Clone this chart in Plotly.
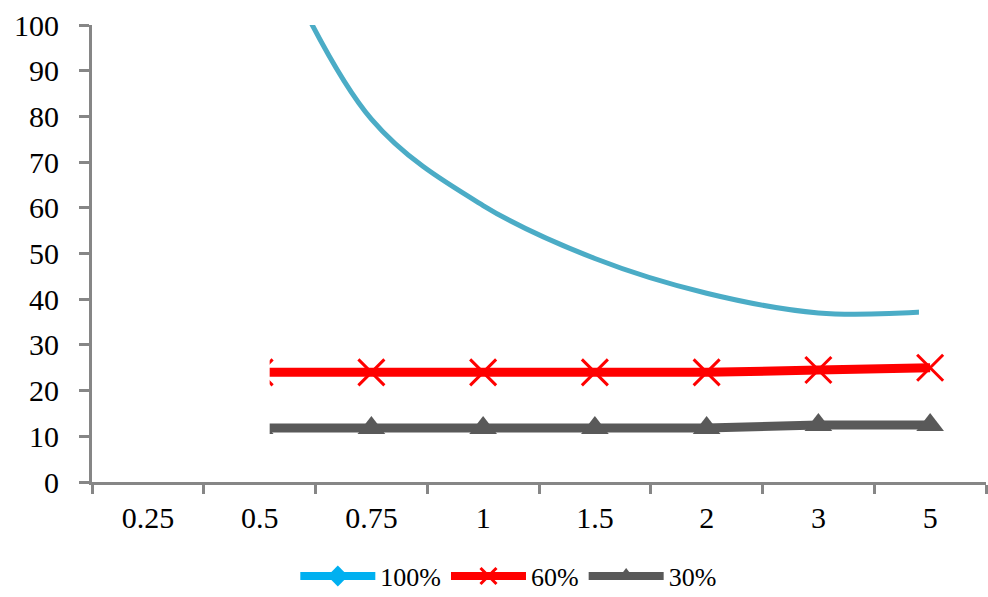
import plotly.graph_objects as go

categories = ["0.25", "0.5", "0.75", "1", "1.5", "2", "3", "5"]
series_100_x = ["0.5", "0.75", "1", "1.5", "2", "3", "5"]
series_100 = [124, 79.4, 60.5, 48.9, 41.3, 37.0, 37.3]
series_60_x = ["0.5", "0.75", "1", "1.5", "2", "3", "5"]
series_60 = [24, 24, 24, 24, 24, 24.5, 25]
series_30_x = ["0.5", "0.75", "1", "1.5", "2", "3", "5"]
series_30 = [11.8, 11.8, 11.8, 11.8, 11.8, 12.5, 12.5]
y_ticks = list(range(0, 101, 10))

FONT = "Liberation Serif"
AXIS = "#868686"

fig = go.Figure()

# data traces
fig.add_trace(go.Scatter(x=series_100_x, y=series_100, mode="lines",
                         line=dict(color="#4BACC6", width=5, shape="spline", smoothing=1),
                         showlegend=False))
fig.add_trace(go.Scatter(x=series_60_x, y=series_60, mode="lines+markers",
                         line=dict(color="#FF0000", width=9),
                         marker=dict(symbol="x-thin", size=26, line=dict(color="#FF0000", width=3)),
                         showlegend=False, cliponaxis=True))
fig.add_trace(go.Scatter(x=series_30_x, y=series_30, mode="lines+markers",
                         line=dict(color="#595959", width=9),
                         marker=dict(symbol="triangle-up", size=24, color="#595959"),
                         showlegend=False, cliponaxis=True))

# legend entries
fig.add_trace(go.Scatter(x=[None], y=[None], mode="lines+markers", name="100%",
                         line=dict(color="#00B0F0", width=8),
                         marker=dict(symbol="diamond", size=18, color="#00B0F0")))
fig.add_trace(go.Scatter(x=[None], y=[None], mode="lines+markers", name="60%",
                         line=dict(color="#FF0000", width=8),
                         marker=dict(symbol="x-thin", size=18, line=dict(color="#FF0000", width=3))))
fig.add_trace(go.Scatter(x=[None], y=[None], mode="lines+markers", name="30%",
                         line=dict(color="#595959", width=8),
                         marker=dict(symbol="triangle-up", size=18, color="#595959")))

# white masks reproducing the cut-off ends of the series
fig.add_shape(type="rect", xref="x", yref="y", x0=-0.45, x1=1.09, y0=0.6, y1=100,
              fillcolor="white", line=dict(width=0), layer="above")
fig.add_shape(type="rect", xref="x", yref="y", x0=6.9, x1=7.3, y0=33, y1=45,
              fillcolor="white", line=dict(width=0), layer="above")

fig.update_layout(
    width=988, height=597,
    margin=dict(l=92, r=2, t=25, b=115),
    paper_bgcolor="white", plot_bgcolor="white",
    font=dict(family=FONT, size=30, color="black"),
    legend=dict(orientation="h", xref="container", yref="container",
                x=0.515, xanchor="center", y=0.035, yanchor="middle",
                font=dict(family=FONT, size=26, color="black"), itemwidth=75,
                tracegroupgap=0, bgcolor="rgba(0,0,0,0)"),
    xaxis=dict(type="category", categoryorder="array", categoryarray=categories,
               range=[-0.5, 7.5], tickson="boundaries", ticks="outside", ticklen=9,
               tickwidth=3, tickcolor=AXIS, showline=True, linecolor=AXIS, linewidth=3,
               showgrid=False, zeroline=False, ticklabelstandoff=7,
               tickfont=dict(family=FONT, size=30, color="black")),
    yaxis=dict(range=[0, 100], tickvals=y_ticks, ticks="outside", ticklen=10,
               tickwidth=3, tickcolor=AXIS, showline=True, linecolor=AXIS, linewidth=3,
               showgrid=False, zeroline=False, ticklabelstandoff=14,
               tickfont=dict(family=FONT, size=30, color="black")),
)

fig.write_html("out.html", config={"displayModeBar": False},
               post_script="document.body.style.margin='0';")
